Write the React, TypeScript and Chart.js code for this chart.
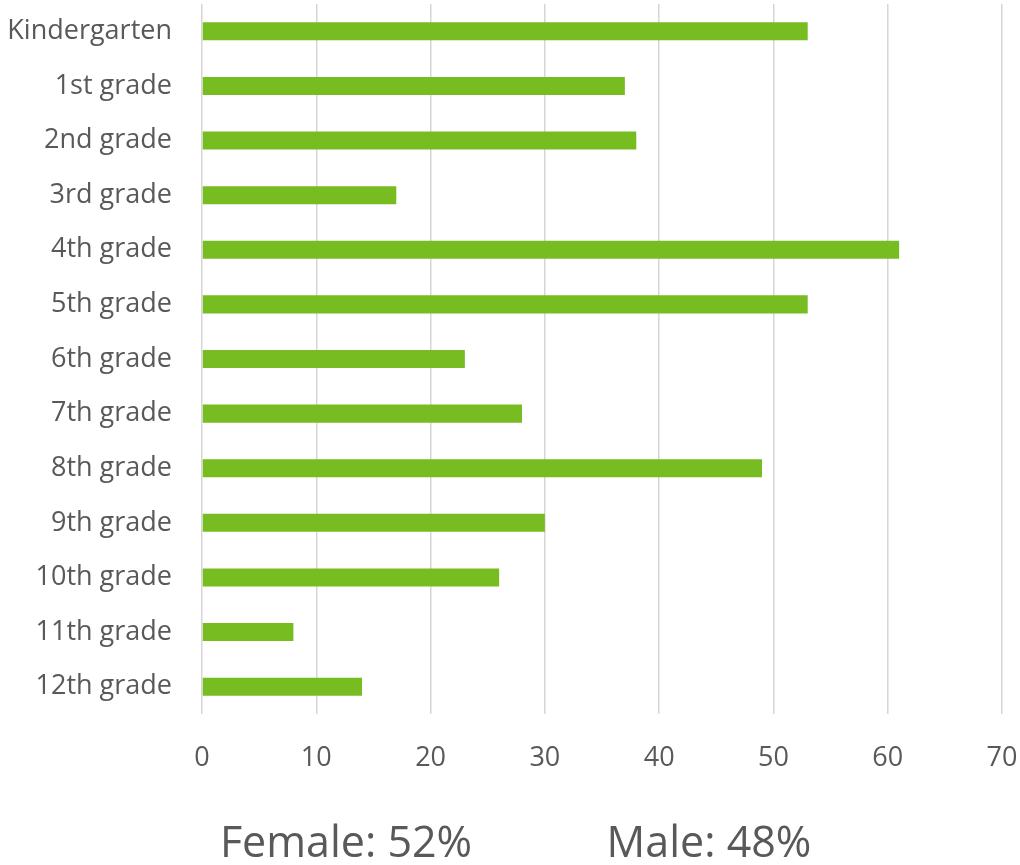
import React, { useEffect, useRef } from "react";
import { Chart, registerables } from "chart.js";

Chart.register(...registerables);

const categories = [
  "Kindergarten",
  "1st grade",
  "2nd grade",
  "3rd grade",
  "4th grade",
  "5th grade",
  "6th grade",
  "7th grade",
  "8th grade",
  "9th grade",
  "10th grade",
  "11th grade",
  "12th grade",
];
const studentCounts = [53, 37, 38, 17, 61, 53, 23, 28, 49, 30, 26, 8, 14];
const axisMin = 0;
const axisMax = 70;
const axisStep = 10;
const femaleText = "Female: 52%";
const maleText = "Male: 48%";

const FONT = "'Open Sans', sans-serif";
const TEXT_COLOR = "#595959";

export default function App() {
  const canvasRef = useRef<HTMLCanvasElement | null>(null);

  useEffect(() => {
    const canvas = canvasRef.current;
    if (!canvas) return;
    const chart = new Chart(canvas, {
      type: "bar",
      data: {
        labels: categories,
        datasets: [
          {
            data: studentCounts,
            backgroundColor: "#77bc21",
            borderWidth: 0,
            categoryPercentage: 1,
            barPercentage: 0.33,
          },
        ],
      },
      options: {
        indexAxis: "y",
        animation: false,
        responsive: false,
        maintainAspectRatio: false,
        layout: { padding: { top: 4, right: 18, left: 0, bottom: 0 } },
        plugins: { legend: { display: false }, tooltip: { enabled: false } },
        scales: {
          x: {
            min: axisMin,
            max: axisMax,
            ticks: {
              stepSize: axisStep,
              color: TEXT_COLOR,
              font: { family: FONT, size: 27 },
              padding: 28,
            },
            grid: { color: "#d6d6d6", lineWidth: 1.5, drawTicks: false },
            border: { display: false },
            afterFit: (scale: any) => {
              scale.height = 70;
              scale.paddingLeft = 0;
              scale.paddingRight = 0;
            },
          },
          y: {
            ticks: {
              color: TEXT_COLOR,
              font: { family: FONT, size: 27 },
              padding: 30,
            },
            grid: { display: false, drawTicks: false },
            border: { display: false },
            afterFit: (scale: any) => {
              scale.width = 202;
              scale.paddingTop = 0;
              scale.paddingBottom = 0;
            },
          },
        },
      },
    });
    return () => chart.destroy();
  }, []);

  const textStyle: React.CSSProperties = {
    position: "absolute",
    top: 819,
    fontFamily: FONT,
    fontSize: 43,
    lineHeight: 1,
    color: TEXT_COLOR,
    whiteSpace: "nowrap",
    transform: "translateX(-50%)",
  };

  return (
    <div style={{ position: "fixed", left: 0, top: 0, width: 1020, height: 865, background: "#fff" }}>
      <canvas
        ref={canvasRef}
        width={1020}
        height={784}
        style={{ position: "absolute", left: 0, top: 0, width: 1020, height: 784 }}
      />
      <span style={{ ...textStyle, left: 346 }}>{femaleText}</span>
      <span style={{ ...textStyle, left: 709 }}>{maleText}</span>
    </div>
  );
}
